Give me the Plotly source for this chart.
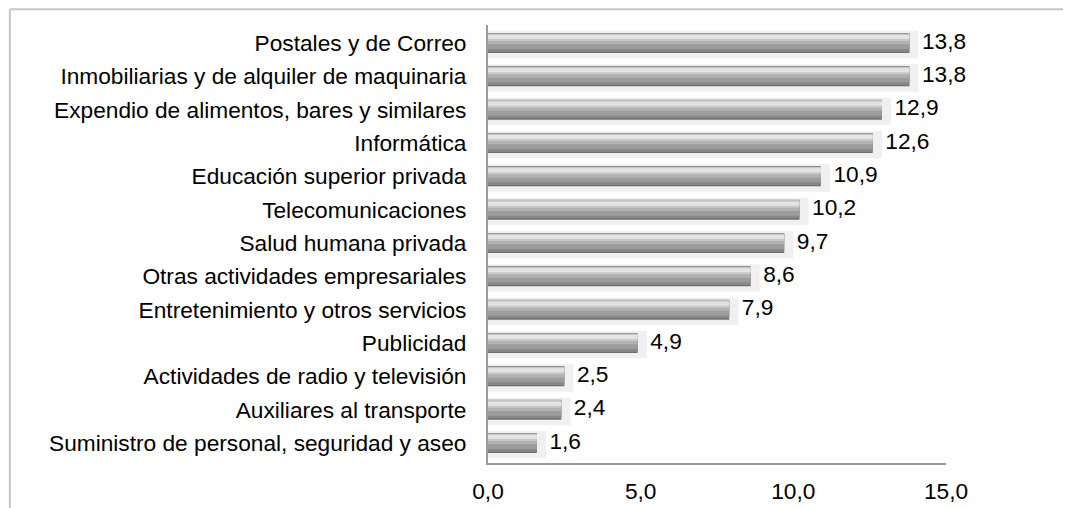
import plotly.graph_objects as go

categories = [
    "Postales y de Correo",
    "Inmobiliarias y de alquiler de maquinaria",
    "Expendio de alimentos, bares y similares",
    "Informática",
    "Educación superior privada",
    "Telecomunicaciones",
    "Salud humana privada",
    "Otras actividades empresariales",
    "Entretenimiento y otros servicios",
    "Publicidad",
    "Actividades de radio y televisión",
    "Auxiliares al transporte",
    "Suministro de personal, seguridad y aseo",
]
values = [13.8, 13.8, 12.9, 12.6, 10.9, 10.2, 9.7, 8.6, 7.9, 4.9, 2.5, 2.4, 1.6]
tick_vals = [0, 5, 10, 15]
tick_text = ["0,0", "5,0", "10,0", "15,0"]

# bottom-to-top order for plotting
cats = categories[::-1]
vals = values[::-1]
labels = [("%.1f" % v).replace(".", ",") for v in vals]

FONT = "Liberation Sans, Arial, sans-serif"
FS = 22.7
fig = go.Figure()

# light shadow frame behind each bar
fig.add_trace(go.Bar(y=cats, x=[v + 0.3 for v in vals], orientation="h",
                     width=0.82, offset=-0.46, marker=dict(color="#f0f0f0", line=dict(width=0)),
                     hoverinfo="skip", showlegend=False))
# gradient emulation layers
layers = [
    (-0.30, 0.60, "#6e6e6e"),
    (-0.26, 0.54, "#888888"),
    (-0.18, 0.46, "#9c9c9c"),
    (-0.04, 0.32, "#b2b2b2"),
    (0.06, 0.22, "#c8c8c8"),
    (0.12, 0.12, "#e4e4e4"),
]
for off, w, col in layers:
    fig.add_trace(go.Bar(y=cats, x=vals, orientation="h", width=w, offset=off,
                         marker=dict(color=col, line=dict(width=0)),
                         hoverinfo="skip", showlegend=False))

fig.add_trace(go.Scatter(y=cats, x=vals, mode="text", text=["  " + t for t in labels],
                         textposition="middle right",
                         textfont=dict(family=FONT, size=FS, color="#000000"),
                         hoverinfo="skip", showlegend=False, cliponaxis=False))

fig.update_layout(
    width=1071, height=508,
    margin=dict(l=480, r=133, t=17, b=53),
    barmode="overlay",
    plot_bgcolor="white", paper_bgcolor="white",
    font=dict(family=FONT, size=FS, color="#000000"),
    xaxis=dict(range=[0, 15], tickvals=tick_vals, ticktext=tick_text, showgrid=False,
               zeroline=False, showline=True, linecolor="#9a9a9a", linewidth=2,
               ticks="outside", ticklen=7, tickcolor="rgba(0,0,0,0)",
               tickfont=dict(family=FONT, size=FS, color="#000000")),
    yaxis=dict(range=[-0.6, 12.54], showgrid=False, zeroline=False, showline=True,
               linecolor="#9a9a9a", linewidth=2, ticks="outside", ticklen=15,
               tickcolor="rgba(0,0,0,0)",
               tickfont=dict(family=FONT, size=FS, color="#000000")),
    shapes=[
        dict(type="line", xref="paper", yref="paper", x0=-1.044, x1=1.4, y0=1.036, y1=1.036,
             line=dict(color="#c4c4c4", width=2)),
        dict(type="line", xref="paper", yref="paper", x0=-1.044, x1=-1.044, y0=1.036, y1=-0.3,
             line=dict(color="#c4c4c4", width=2)),
    ],
)

fig.write_html("out.html")
